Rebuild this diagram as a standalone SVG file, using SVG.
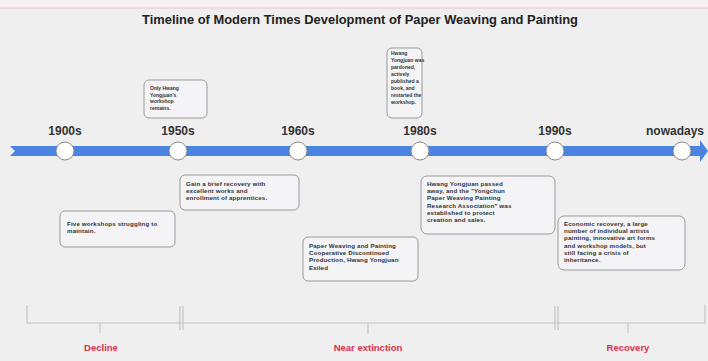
<svg xmlns="http://www.w3.org/2000/svg" width="708" height="361" viewBox="0 0 708 361">
<style>
.title{font-family:"Liberation Sans",Arial,sans-serif;font-weight:bold;font-size:12px;fill:#222}
.yr{font-family:"Liberation Sans",Arial,sans-serif;font-weight:bold;font-size:12px;fill:#333;text-anchor:middle}
.box{fill:#f4f4f6;stroke:#9a9a9a;stroke-width:1}
.t{font-family:"Liberation Sans",Arial,sans-serif;font-size:5px;font-weight:bold;fill:#333}
.tl{font-family:"Liberation Sans",Arial,sans-serif;font-size:6.2px;font-weight:bold;fill:#333;letter-spacing:0.15px}
.node{fill:#ffffff;stroke:#8a8a8a;stroke-width:1}
.br{fill:none;stroke:#c4c4c4;stroke-width:1.2}
.ph{font-family:"Liberation Sans",Arial,sans-serif;font-weight:bold;font-size:9.5px;fill:#d8304a;text-anchor:middle}
</style>
<rect width="708" height="361" fill="#efefef"/>
<rect x="0" y="0" width="708" height="8" fill="#f7f1f3"/>
<line x1="0" y1="8" x2="708" y2="8" stroke="#e8c8d0" stroke-width="1"/>
<text class="title" x="360" y="24" text-anchor="middle" textLength="436" lengthAdjust="spacingAndGlyphs">Timeline of Modern Times Development of Paper Weaving and Painting</text>

<g id="connectors">
<path d="M10,146 L700,146 L700,140 L708,151 L700,162 L700,156 L10,156 L15,151 Z" fill="#4a83e0"/>
<g class="br">
<path d="M27,305 L27,323 L705,323 L705,305"/>
<line x1="100" y1="323" x2="100" y2="333"/>
<line x1="180" y1="306" x2="180" y2="330"/>
<line x1="183" y1="306" x2="183" y2="330"/>
<line x1="368" y1="323" x2="368" y2="334"/>
<line x1="555" y1="306" x2="555" y2="330"/>
<line x1="558" y1="306" x2="558" y2="330"/>
<line x1="628" y1="323" x2="628" y2="333"/>
</g>
</g>

<g id="n1900"><circle class="node" cx="65" cy="151" r="9"/><text class="yr" x="65" y="135">1900s</text></g>
<g id="n1950"><circle class="node" cx="178" cy="151" r="9"/><text class="yr" x="178" y="135">1950s</text></g>
<g id="n1960"><circle class="node" cx="298" cy="151" r="9"/><text class="yr" x="298" y="135">1960s</text></g>
<g id="n1980"><circle class="node" cx="420" cy="151" r="9"/><text class="yr" x="420" y="135">1980s</text></g>
<g id="n1990"><circle class="node" cx="555" cy="151" r="9"/><text class="yr" x="555" y="135">1990s</text></g>
<g id="nnow"><circle class="node" cx="682" cy="151" r="9"/><text class="yr" x="675" y="135">nowadays</text></g>

<g id="b1950top"><rect class="box" x="144" y="80" width="63" height="38" rx="5"/>
<text class="t" x="150" y="90"><tspan x="150">Only Hwang</tspan><tspan x="150" dy="6.5">Yongjuan's</tspan><tspan x="150" dy="6.5">workshop</tspan><tspan x="150" dy="6.5">remains.</tspan></text></g>

<g id="b1980top"><rect class="box" x="387" y="48" width="35" height="70" rx="5"/>
<text class="t" x="391" y="55"><tspan x="391">Hwang</tspan><tspan x="391" dy="7">Yongjuan was</tspan><tspan x="391" dy="7">pardoned,</tspan><tspan x="391" dy="7">actively</tspan><tspan x="391" dy="7">published a</tspan><tspan x="391" dy="7">book, and</tspan><tspan x="391" dy="7">restarted the</tspan><tspan x="391" dy="7">workshop.</tspan></text></g>

<g id="b1900"><rect class="box" x="60" y="211" width="115" height="36" rx="5"/>
<text class="tl" x="67" y="226"><tspan x="67">Five workshops struggling to</tspan><tspan x="67" dy="7.2">maintain.</tspan></text></g>

<g id="b1950"><rect class="box" x="180" y="175" width="119" height="35" rx="5"/>
<text class="tl" x="186" y="186"><tspan x="186">Gain a brief recovery with</tspan><tspan x="186" dy="7.2">excellent works and</tspan><tspan x="186" dy="7.2">enrollment of apprentices.</tspan></text></g>

<g id="b1960"><rect class="box" x="303" y="237" width="115" height="44" rx="5"/>
<text class="tl" x="309" y="248"><tspan x="309">Paper Weaving and Painting</tspan><tspan x="309" dy="7.2">Cooperative Discontinued</tspan><tspan x="309" dy="7.2">Production, Hwang Yongjuan</tspan><tspan x="309" dy="7.2">Exiled</tspan></text></g>

<g id="b1980"><rect class="box" x="421" y="176" width="134" height="58" rx="6"/>
<text class="tl" x="427" y="186"><tspan x="427">Hwang Yongjuan passed</tspan><tspan x="427" dy="7.2">away, and the "Yongchun</tspan><tspan x="427" dy="7.2">Paper Weaving Painting</tspan><tspan x="427" dy="7.2">Research Association" was</tspan><tspan x="427" dy="7.2">established to protect</tspan><tspan x="427" dy="7.2">creation and sales.</tspan></text></g>

<g id="bnow"><rect class="box" x="558" y="216" width="127" height="54" rx="6"/>
<text class="tl" x="564" y="226"><tspan x="564">Economic recovery, a large</tspan><tspan x="564" dy="7.2">number of individual artists</tspan><tspan x="564" dy="7.2">painting, innovative art forms</tspan><tspan x="564" dy="7.2">and workshop models, but</tspan><tspan x="564" dy="7.2">still facing a crisis of</tspan><tspan x="564" dy="7.2">inheritance.</tspan></text></g>

<g id="phases">
<text class="ph" x="101" y="351">Decline</text>
<text class="ph" x="368" y="351">Near extinction</text>
<text class="ph" x="628" y="351">Recovery</text>
</g>
</svg>
